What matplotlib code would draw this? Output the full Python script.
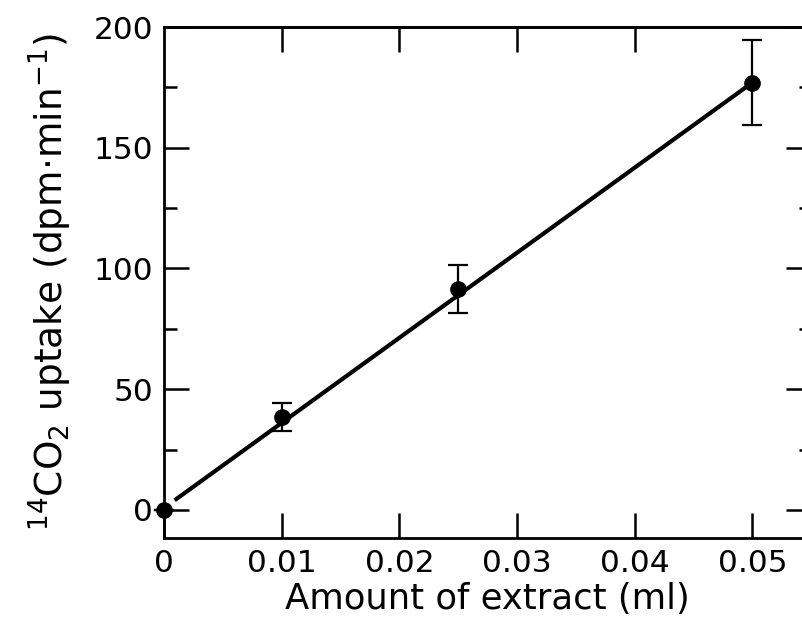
import numpy as np
import matplotlib.pyplot as plt
from matplotlib.ticker import MultipleLocator, FixedLocator

# data
extract_ml = [0.0, 0.01, 0.025, 0.05]
uptake = [0.0, 38.5, 91.5, 177.0]
uptake_err = [0.0, 5.8, 10.0, 17.5]

# regression line end points
fit_x = [0.0009, 0.05]
fit_y = [4.0, 177.0]

plt.rcParams['font.family'] = ['DejaVu Sans']
plt.rcParams['mathtext.fontset'] = 'dejavusans'

fig = plt.figure(figsize=(8.02, 6.21), dpi=100)
ax = fig.add_axes([0.2045, 0.1337, 0.807, 0.8228])

ax.plot(fit_x, fit_y, color='black', linewidth=3.0, solid_capstyle='butt')
ax.errorbar(extract_ml, uptake, yerr=uptake_err, fmt='o', color='black',
            markersize=11, elinewidth=1.6, capsize=7, capthick=1.6, clip_on=False, zorder=3)

ax.set_xlim(0, 0.055)
ax.set_ylim(-11.6, 200)

ax.xaxis.set_major_locator(FixedLocator([0, 0.01, 0.02, 0.03, 0.04, 0.05]))
ax.set_xticklabels(['0', '0.01', '0.02', '0.03', '0.04', '0.05'])
ax.yaxis.set_major_locator(MultipleLocator(50))
ax.yaxis.set_minor_locator(MultipleLocator(25))

for s in ax.spines.values():
    s.set_linewidth(2.0)

ax.tick_params(axis='both', which='major', direction='in', length=18, width=1.8,
               labelsize=22.5, pad=8, right=True)
ax.tick_params(axis='y', which='minor', direction='in', length=9, width=1.8, right=True)

top = ax.secondary_xaxis('top')
top.xaxis.set_major_locator(FixedLocator([0.01, 0.02, 0.03, 0.04]))
top.tick_params(direction='in', length=18, width=1.8, labeltop=False)
top.spines['top'].set_linewidth(2.0)

ax.set_xlabel('Amount of extract (ml)', fontsize=25.5, labelpad=3)
ax.set_ylabel(r'$\mathregular{^{14}CO_2}$ uptake (dpm$\cdot$min$\mathregular{^{-1}}$)',
              fontsize=27, labelpad=14)

fig.savefig('out.png', dpi=100)
